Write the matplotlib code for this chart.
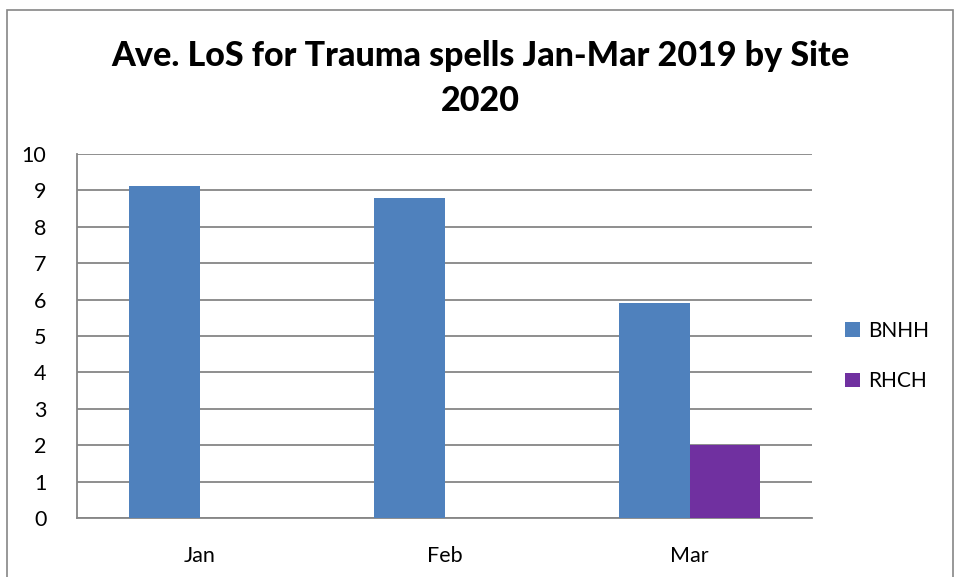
import matplotlib.pyplot as plt
import numpy as np
from matplotlib.patches import Rectangle

months = ['Jan', 'Feb', 'Mar']
bnhh = [9.13, 8.79, 5.91]
rhch = [np.nan, np.nan, 2.0]
y_ticks = list(range(0, 11))

plt.rcParams['font.family'] = ['Lato', 'DejaVu Sans']

fig = plt.figure(figsize=(9.57, 5.77), dpi=100)
ax = fig.add_axes([0.0805, 0.1023, 0.768, 0.6307])

# outer chart border
fig.patches.append(Rectangle((0.0075, -0.01), 0.988, 0.993, transform=fig.transFigure,
                             fill=False, edgecolor='#868686', linewidth=1.2))

x = np.arange(len(months))
w = 0.286
ax.bar(x - w / 2, bnhh, w, color='#4F81BD', label='BNHH', zorder=3)
ax.bar(x + w / 2, rhch, w, color='#7030A0', label='RHCH', zorder=3)

ax.set_xlim(-0.5, 2.5)
ax.set_ylim(0, 10)
ax.set_yticks(y_ticks)
ax.set_xticks(x)
ax.set_xticklabels(months)
ax.tick_params(axis='both', length=0, labelsize=15.5, colors='black')
ax.tick_params(axis='y', pad=22)
ax.tick_params(axis='x', pad=20)
ax.grid(axis='y', color='#868686', linewidth=1.3, zorder=0)

for s in ['top', 'right']:
    ax.spines[s].set_visible(False)
for s in ['left', 'bottom']:
    ax.spines[s].set_color('#868686')
    ax.spines[s].set_linewidth(1.3)

fig.text(0.502, 0.864, 'Ave. LoS for Trauma spells Jan-Mar 2019 by Site\n2020',
         ha='center', va='center', fontsize=24.5, fontweight='black', linespacing=1.5)

ax.legend(loc='center left', bbox_to_anchor=(1.02, 0.445), frameon=False,
          fontsize=15, handlelength=0.7, handleheight=0.7, labelspacing=1.45,
          handletextpad=0.4)

plt.savefig('out.png', dpi=100)
